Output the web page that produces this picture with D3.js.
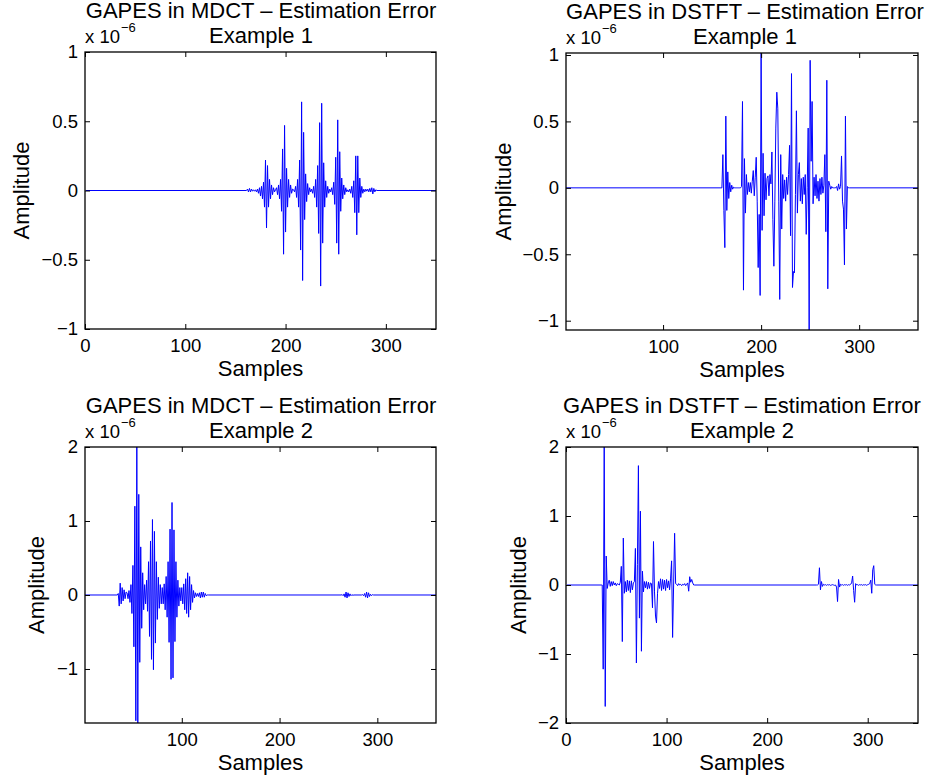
<!DOCTYPE html>
<html>
<head>
<meta charset="utf-8">
<script src="https://cdn.jsdelivr.net/npm/d3@7"></script>
<style>
  html, body { margin: 0; padding: 0; background: #fff; }
  svg { display: block; font-family: "Liberation Sans", Arial, Helvetica, sans-serif; }
</style>
</head>
<body>
<svg id="chart" width="934" height="782"></svg>
<script>
// ---- values (amplitude in units of 1e-6) ----
// every segment starts at the given sample index; outside the segments the error is flat at 0

const mdct1Start = 162;
const mdct1Values = [
  0.01, -0.01, 0.015, -0.01, 0.01, -0.005, 0.005, -0.005,                       // 162-169
  0.005, -0.01, 0.01, -0.02, 0.02, -0.04, 0.03, -0.06, 0.06, -0.12,             // 170-179
  0.22, -0.27, 0.18, -0.12, 0.08, -0.06, 0.04, -0.03, 0.02, -0.01,              // 180-189
  0.005, 0.02, -0.03, 0.04, -0.06, 0.08, -0.15, 0.30, -0.46, 0.47,              // 190-199
  -0.30, 0.16, -0.12, 0.08, -0.05, 0.04, -0.02, 0.01, 0.005, -0.01,             // 200-209
  0.03, -0.05, 0.08, -0.12, 0.22, -0.43, 0.64, -0.65, 0.42, -0.21,              // 210-219
  0.12, -0.08, 0.05, -0.03, 0.02, -0.01, 0.01, -0.02, 0.03, -0.05,              // 220-229
  0.08, -0.12, 0.18, -0.31, 0.49, -0.69, 0.63, -0.38, 0.20, -0.12,              // 230-239
  0.07, -0.05, 0.03, -0.02, 0.01, -0.01, 0.02, -0.03, 0.06, -0.10,              // 240-249
  0.24, -0.38, 0.51, -0.46, 0.28, -0.15, 0.09, -0.06, 0.04, -0.03,              // 250-259
  0.02, -0.01, 0.005, -0.01, 0.01, -0.02, 0.03, -0.05, 0.07, -0.16,             // 260-269
  0.25, -0.32, 0.25, -0.16, 0.09, -0.05, 0.03, -0.02, 0.01, -0.01,              // 270-279
  0.01, -0.005, 0.01, -0.01, 0.015, -0.01, 0.02, -0.025, 0.015, -0.01, 0.005    // 280-290
];

const dstft1Start = 160;
const dstft1Values = [
  0.0, 0.25, -0.17, -0.45, 0.54, -0.17, 0.12, -0.08, 0.04, -0.03,               // 160-169
  0.02, -0.01, 0.005, 0.0, 0.0, 0.0, 0.0, 0.0, 0.0, 0.0,                        // 170-179
  0.01, 0.65, -0.77, 0.22, -0.19, 0.10, -0.05, 0.04, -0.03, 0.04,               // 180-189
  -0.04, 0.05, 0.13, -0.06, 0.08, 0.23, -0.10, -0.60, -0.20, -0.81,             // 190-199
  1.015, -0.32, 0.26, -0.21, 0.11, -0.09, 0.07, 0.09, -0.06, 0.10,              // 200-209
  0.03, 0.27, -0.24, -0.59, -0.10, 0.45, 0.72, 0.60, -0.10, -0.84,              // 210-219
  0.25, -0.31, 0.10, -0.08, 0.06, -0.10, 0.08, -0.05, 0.10, 0.32,               // 220-229
  -0.36, 0.86, -0.75, -0.63, -0.64, -0.05, 0.58, -0.19, 0.10, 0.19,             // 230-239
  -0.10, 0.07, -0.12, 0.08, -0.05, 0.10, -0.35, 0.0, 0.45, -1.07,               // 240-249
  0.96, 0.20, 0.65, -0.12, 0.08, -0.06, 0.10, -0.08, 0.05, -0.10,               // 250-259
  0.07, -0.05, 0.08, -0.04, 0.02, 0.25, -0.33, 0.81, -0.76, 0.05,               // 260-269
  0.02, -0.01, 0.01, 0.0, 0.0, 0.0, 0.0, 0.01, -0.02, 0.03,                     // 270-279
  -0.01, 0.01, 0.24, -0.10, -0.16, -0.58, 0.54, -0.31, 0.01, 0.0                // 280-289
];

const mdct2Start = 35;
const mdct2Values = [
  0.02, -0.15, 0.16, -0.12, 0.10, -0.08, 0.07, -0.05, 0.04, 0.03,               // 35-44
  -0.05, 0.06, -0.10, 0.14, -0.25, 0.40, -0.70, 1.20, -1.70, 2.00,              // 45-54
  -1.73, 1.36, -0.91, 0.65, -0.45, 0.30, -0.20, 0.14, -0.12, 0.20,              // 55-64
  -0.22, 0.45, -0.56, 0.73, -0.87, 1.02, -1.01, 0.86, -0.65, 0.45,              // 65-74
  -0.33, 0.24, -0.18, 0.14, -0.12, 0.10, -0.12, 0.15, -0.20, 0.25,              // 75-84
  -0.30, 0.45, -0.64, 0.89, -1.14, 1.25, -1.12, 0.88, -0.63, 0.45,              // 85-94
  -0.30, 0.20, -0.15, 0.10, -0.08, 0.10, -0.12, 0.15, -0.20, 0.22,              // 95-104
  -0.25, 0.30, -0.30, 0.25, -0.20, 0.14, -0.10, 0.06, -0.04, 0.03,              // 105-114
  -0.02, 0.02, -0.02, 0.03, -0.04, 0.04, -0.03, 0.04, -0.03, 0.02,              // 115-124
  -0.01, 0.0                                                                    // 125-126
];
const mdct2TailAStart = 264;
const mdct2TailAValues = [0.005, -0.01, 0.015, -0.03, 0.04, -0.04, 0.03, -0.02, 0.015, -0.01, 0.005, -0.005];
const mdct2TailBStart = 285;
const mdct2TailBValues = [0.005, -0.01, 0.02, -0.03, 0.04, -0.04, 0.03, -0.02, 0.01, -0.01, 0.005];

const dstft2Start = 36;
const dstft2Values = [
  0.0, -1.22, 2.00, -1.76, 0.42, -0.05, 0.03, 0.07, -0.02, 0.05,                // 36-45
  -0.01, 0.05, 0.0, 0.03, -0.01, 0.02, 0.01, 0.0, 0.04, 0.27,                   // 46-55
  -0.82, 0.68, -0.12, 0.05, -0.10, 0.07, -0.08, 0.06, -0.11, 0.06,              // 56-65
  -0.07, 0.03, 0.05, 0.53, -1.13, 0.30, 1.73, -0.48, 1.07, -0.96,               // 66-75
  0.20, -0.10, 0.05, -0.04, 0.05, -0.06, 0.04, -0.05, 0.03, 0.02,               // 76-85
  -0.33, 0.63, -0.10, -0.45, -0.55, -0.12, 0.05, -0.05, 0.09, -0.08,            // 86-95
  0.08, -0.06, 0.07, -0.08, 0.08, -0.04, 0.06, -0.07, 0.10, 0.35,               // 96-105
  -0.76, 0.0, 0.75, 0.02, 0.01, -0.01, 0.02, 0.0, 0.01, -0.01,                  // 106-115
  0.01, 0.0, 0.02, -0.01, 0.01, 0.03, -0.09, 0.12, 0.04, 0.08,                  // 116-125
  0.03, 0.0                                                                     // 126-127
];
const dstft2TailStart = 250;
const dstft2TailValues = [
  0.0, 0.01, 0.25, -0.07, 0.05, -0.02, 0.01, 0.0, 0.005, -0.005,                // 250-259
  0.005, 0.0, 0.005, -0.005, 0.0, 0.005, 0.0, -0.005, 0.0, -0.03,               // 260-269
  -0.24, 0.08, -0.03, 0.01, 0.0, 0.005, -0.005, 0.005, 0.0, 0.005,              // 270-279
  -0.005, 0.005, 0.0, 0.01, 0.03, 0.13, -0.08, -0.25, 0.02, 0.0,                // 280-289
  0.005, -0.005, 0.005, 0.0, 0.005, -0.005, 0.005, 0.0, 0.005, -0.005,          // 290-299
  0.005, 0.01, 0.02, 0.07, -0.12, 0.22, 0.28, 0.01, 0.0                         // 300-308
];

const titleLines = ["GAPES in MDCT \u2013 Estimation Error", "GAPES in DSTFT \u2013 Estimation Error"];
const exampleLabels = ["Example 1", "Example 2"];
const xTicksFrom0 = [0, 100, 200, 300];
const xTicksFrom100 = [100, 200, 300];
const yTicksHalf = [-1, -0.5, 0, 0.5, 1];
const yTicksMdct2 = [-1, 0, 1, 2];
const yTicksDstft2 = [-2, -1, 0, 1, 2];
const sampleCount = 360;

// ---- panel definitions (built from the arrays above) ----
const panels = [
  { title: titleLines[0], sub: exampleLabels[0], segments: [[mdct1Start, mdct1Values]],
    xDomain: [0, 350], yDomain: [-1, 1], xTicks: xTicksFrom0, yTicks: yTicksHalf },
  { title: titleLines[1], sub: exampleLabels[0], segments: [[dstft1Start, dstft1Values]],
    xDomain: [1, 360], yDomain: null, xTicks: xTicksFrom100, yTicks: yTicksHalf },
  { title: titleLines[0], sub: exampleLabels[1],
    segments: [[mdct2Start, mdct2Values], [mdct2TailAStart, mdct2TailAValues], [mdct2TailBStart, mdct2TailBValues]],
    xDomain: [1, 360], yDomain: null, xTicks: xTicksFrom100, yTicks: yTicksMdct2 },
  { title: titleLines[1], sub: exampleLabels[1], segments: [[dstft2Start, dstft2Values], [dstft2TailStart, dstft2TailValues]],
    xDomain: [0, 350], yDomain: [-2, 2], xTicks: xTicksFrom0, yTicks: yTicksDstft2 }
];

const frames = [
  { left: 85, right: 436, top: 52, bottom: 329, titleX: 261, ylabelX: 29 },
  { left: 566, right: 918, top: 53, bottom: 330, titleX: 745, ylabelX: 511 },
  { left: 85, right: 436, top: 447, bottom: 723, titleX: 261, ylabelX: 44 },
  { left: 566, right: 918, top: 447, bottom: 723, titleX: 742, ylabelX: 526 }
];

const tickFont = 18.5;
const labelFont = 22;
const fmt = d => (d < 0 ? "\u2212" : "") + Math.abs(d);

const svg = d3.select("#chart");

panels.forEach((p, i) => {
  const f = frames[i];
  const g = svg.append("g");

  // series: flat zero outside the segments, sample values inside
  const pts = [[1, 0]];
  p.segments.forEach(([start, vals]) => {
    pts.push([start - 1, 0]);
    vals.forEach((v, k) => pts.push([start + k, v]));
    pts.push([start + vals.length, 0]);
  });
  pts.push([sampleCount, 0]);

  const x = d3.scaleLinear().domain(p.xDomain).range([f.left, f.right]);
  // no fixed limits -> tight to the data, like the reference
  const yDom = p.yDomain || d3.extent(pts, d => d[1]);
  const y = d3.scaleLinear().domain(yDom).range([f.bottom, f.top]);

  const clipId = "clip" + i;
  svg.append("clipPath").attr("id", clipId)
    .append("rect")
    .attr("x", f.left).attr("y", f.top - 0.5)
    .attr("width", f.right - f.left).attr("height", f.bottom - f.top + 1);

  g.append("path")
    .datum(pts)
    .attr("clip-path", `url(#${clipId})`)
    .attr("fill", "none")
    .attr("stroke", "#0000ff")
    .attr("stroke-width", 1)
    .attr("d", d3.line().x(d => x(d[0])).y(d => y(d[1])));

  // inward ticks on all four sides, MATLAB style
  const axes = [
    [d3.axisBottom(x).tickValues(p.xTicks).tickFormat(fmt).tickPadding(10), `translate(0,${f.bottom})`],
    [d3.axisTop(x).tickValues(p.xTicks).tickFormat(""), `translate(0,${f.top})`],
    [d3.axisLeft(y).tickValues(p.yTicks).tickFormat(fmt).tickPadding(7), `translate(${f.left},0)`],
    [d3.axisRight(y).tickValues(p.yTicks).tickFormat(""), `translate(${f.right},0)`]
  ];
  axes.forEach(([ax, tr]) => {
    const a = g.append("g").attr("transform", tr)
      .call(ax.tickSizeInner(-5).tickSizeOuter(0));
    a.select(".domain").remove();
    a.selectAll(".tick line").attr("stroke", "#000");
    a.selectAll(".tick text")
      .attr("fill", "#000")
      .style("font-size", tickFont + "px")
      .style("font-family", '"Liberation Sans", Arial, sans-serif');
  });

  g.append("rect")
    .attr("x", f.left).attr("y", f.top)
    .attr("width", f.right - f.left).attr("height", f.bottom - f.top)
    .attr("fill", "none").attr("stroke", "#000").attr("stroke-width", 1.3);

  // titles
  g.append("text")
    .attr("x", f.titleX).attr("y", f.top - 34)
    .attr("text-anchor", "middle")
    .style("font-size", labelFont + "px")
    .text(p.title);
  g.append("text")
    .attr("x", f.titleX).attr("y", f.top - 9)
    .attr("text-anchor", "middle")
    .style("font-size", labelFont + "px")
    .text(p.sub);

  // exponent marker
  const ex = g.append("text")
    .attr("x", f.left).attr("y", f.top - 9)
    .style("font-size", tickFont + "px")
    .text("x 10");
  ex.append("tspan")
    .attr("dx", 1).attr("dy", -11)
    .style("font-size", "13px")
    .text("\u22126");

  // axis labels
  g.append("text")
    .attr("x", (f.left + f.right) / 2).attr("y", f.bottom + 47)
    .attr("text-anchor", "middle")
    .style("font-size", labelFont + "px")
    .text("Samples");
  g.append("text")
    .attr("transform", `translate(${f.ylabelX},${(f.top + f.bottom) / 2}) rotate(-90)`)
    .attr("text-anchor", "middle")
    .style("font-size", labelFont + "px")
    .text("Amplitude");
});
</script>
</body>
</html>
